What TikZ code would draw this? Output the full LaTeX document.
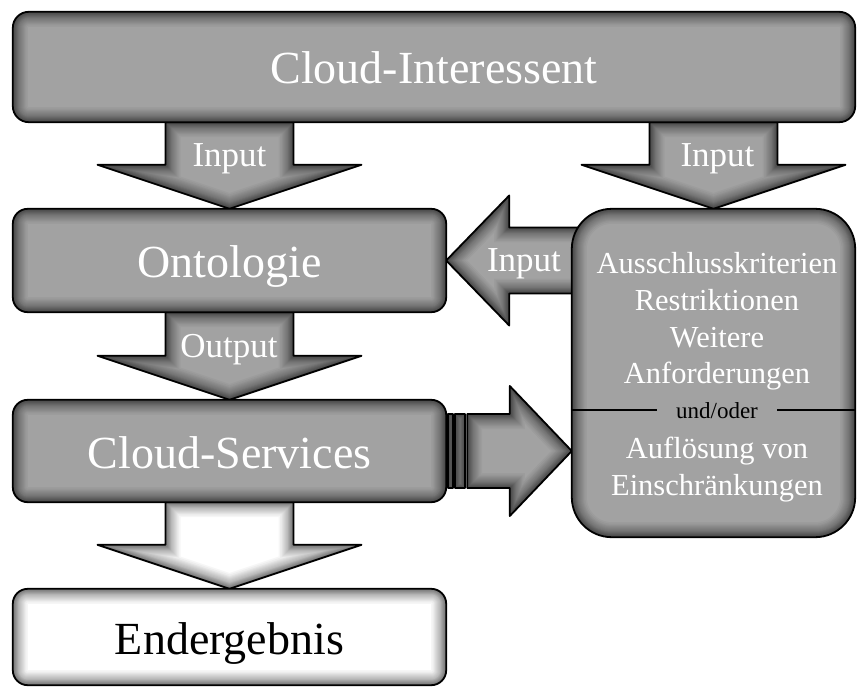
\documentclass[tikz,border=0pt]{standalone}
\usepackage{fontspec}
\setmainfont{Liberation Serif}
\usetikzlibrary{calc,backgrounds}
\definecolor{boxgray}{RGB}{162,162,162}
\newcommand{\glowpath}[2]{%
  \begin{scope}
    \clip #2;
    \fill[#1] #2;
    \foreach \w in {2,3,...,12,14,16,...,24,27,30} {\draw[black,opacity=0.035,line width=\w pt] #2;}
  \end{scope}
  \draw[line width=1.8pt,line join=round] #2;
}
\newcommand{\blockdown}[3]{%
  \glowpath{#1}{($(#3 |- #2)+(-64,0)$) -- ($(#3)+(-64,-44)$) -- ($(#3)+(-132,-44)$) -- (#3) -- ($(#3)+(132,-44)$) -- ($(#3)+(64,-44)$) -- ($(#3 |- #2)+(64,0)$) -- cycle}%
}
\begin{document}
\begin{tikzpicture}[x=1pt,y=-1pt,
  box/.style={minimum width=433pt,inner sep=0pt,text=white,font=\fontsize{46}{50}\selectfont,text height=34pt,text depth=0pt},
  lbl/.style={anchor=base,text=white,font=\fontsize{35}{40}\selectfont},
  krit/.style={anchor=base,text=white,font=\fontsize{30.5}{36}\selectfont}]
\useasboundingbox (0,0) rectangle (857,687);
\node[box,minimum width=842pt,minimum height=110pt] (ci) at (434,67) {Cloud-Interessent};
\node[box,minimum height=103pt] (onto) at (229.5,260.5) {Ontologie};
\node[box,minimum height=102pt] (cs) at (229.5,451) {Cloud-Services};
\node[box,minimum height=96pt,text=black] (end) at (229.5,637) {Endergebnis};
\node[minimum width=283pt,minimum height=328pt,inner sep=0pt] (crit) at (713.5,373) {};

\node[lbl] (in1) at (229.5,167) {Input};
\node[lbl] (in2) at (717.5,167) {Input};
\node[lbl] (in3) at (524,272) {Input};
\node[lbl] (out) at (229,357) {Output};

\foreach \n/\y/\t in {k1/273/Ausschlusskriterien,k2/310/Restriktionen,k3/347/Weitere,k4/383/Anforderungen,k5/458/Auflösung von,k6/495/Einschränkungen}
  \node[krit] (\n) at (717,\y) {\t};
\node[anchor=base,font=\fontsize{23}{26}\selectfont,inner xsep=19pt] (und) at (717,418) {und/oder};
\draw[line width=2pt] (crit.west |- und.center) -- (und.west);
\draw[line width=2pt] (und.east) -- (crit.east |- und.center);

\begin{scope}[on background layer]
\blockdown{boxgray}{ci.south}{onto.north}
\blockdown{boxgray}{ci.south}{crit.north}
\blockdown{boxgray}{onto.south}{cs.north}
\blockdown{white}{cs.south}{end.north}
% Input nach links
\glowpath{boxgray}{($(onto.east -| crit.west)+(25,-33)$) -- ($(onto.east)+(63,-33)$) -- ($(onto.east)+(63,-65)$) -- (onto.east) -- ($(onto.east)+(63,65)$) -- ($(onto.east)+(63,33)$) -- ($(onto.east -| crit.west)+(25,33)$) -- cycle}
% Pfeil nach rechts
\glowpath{boxgray}{($(cs.east)+(2,-37)$) rectangle ($(cs.east)+(7,37)$)}
\glowpath{boxgray}{($(cs.east)+(9,-37)$) rectangle ($(cs.east)+(19,37)$)}
\glowpath{boxgray}{($(cs.east)+(21,-37)$) -- ($(cs.east -| crit.west)+(-62,-37)$) -- ($(cs.east -| crit.west)+(-62,-65)$) -- (cs.east -| crit.west) -- ($(cs.east -| crit.west)+(-62,65)$) -- ($(cs.east -| crit.west)+(-62,37)$) -- ($(cs.east)+(21,37)$) -- cycle}
% Kaesten
\glowpath{boxgray}{[rounded corners=16pt] (ci.south west) rectangle (ci.north east)}
\glowpath{boxgray}{[rounded corners=15pt] (onto.south west) rectangle (onto.north east)}
\glowpath{boxgray}{[rounded corners=15pt] (cs.south west) rectangle (cs.north east)}
\glowpath{white}{[rounded corners=15pt] (end.south west) rectangle (end.north east)}
\glowpath{boxgray}{[rounded corners=40pt] (crit.south west) rectangle (crit.north east)}
\end{scope}
\end{tikzpicture}
\end{document}
